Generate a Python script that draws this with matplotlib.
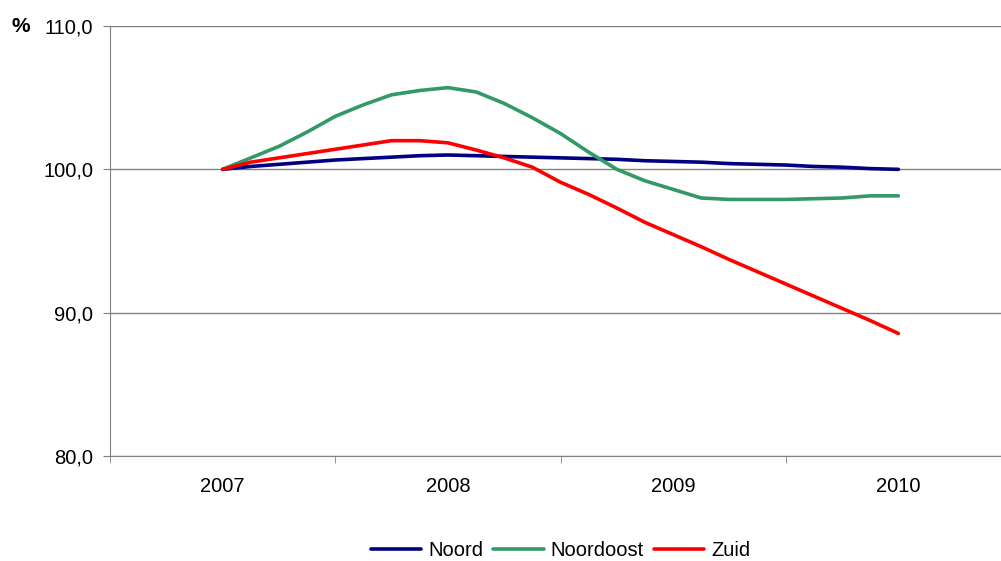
import numpy as np
from matplotlib import pyplot as plt
from matplotlib.ticker import FuncFormatter

plt.rcParams['font.family'] = ['Liberation Sans', 'DejaVu Sans']

# Data (8 points per year, 2007 -> 2010).
years = [2007, 2008, 2009, 2010]
steps = np.arange(25) / 8.0 + 2007

noord = [100.0, 100.2, 100.35, 100.5, 100.65, 100.75, 100.85, 100.95, 101.0,
         100.95, 100.9, 100.85, 100.8, 100.75, 100.7, 100.6, 100.55, 100.5,
         100.4, 100.35, 100.3, 100.2, 100.15, 100.05, 100.0]
noordoost = [100.0, 100.8, 101.6, 102.6, 103.7, 104.5, 105.2, 105.5, 105.7,
             105.4, 104.6, 103.6, 102.5, 101.2, 100.0, 99.2, 98.6, 98.0,
             97.9, 97.9, 97.9, 97.95, 98.0, 98.15, 98.15]
zuid = [100.0, 100.5, 100.8, 101.1, 101.4, 101.7, 102.0, 102.0, 101.85,
        101.35, 100.8, 100.15, 99.1, 98.25, 97.3, 96.3, 95.45, 94.6,
        93.7, 92.85, 92.0, 91.15, 90.3, 89.45, 88.55]

names = ['Noord', 'Noordoost', 'Zuid']
colors = ['#000080', '#339966', '#FF0000']

fs = 14.5

fig = plt.figure(figsize=(10.01, 5.61), dpi=100)
ax = fig.add_axes([110/1001, 1 - 456/561, 901/1001, 430/561])

for vals, name, col in zip([noord, noordoost, zuid], names, colors):
    ax.plot(steps, vals, color=col, linewidth=2.6, label=name,
            solid_capstyle='round', solid_joinstyle='round')

ax.set_xlim(2006.5, 2010.5)
ax.set_ylim(80, 110)

# Horizontal gridlines.
ax.set_yticks([80, 90, 100, 110])
ax.yaxis.set_major_formatter(FuncFormatter(lambda v, p: ('%.1f' % v).replace('.', ',')))
ax.grid(axis='y', color='#808080', linewidth=1.0)
ax.set_axisbelow(True)

# Year labels in the middle, tick marks between categories.
ax.set_xticks(years)
ax.set_xticklabels([str(y) for y in years])
ax.set_xticks([2006.5, 2007.5, 2008.5, 2009.5, 2010.5], minor=True)
ax.tick_params(axis='x', which='major', length=0, labelsize=fs, pad=15)
ax.tick_params(axis='x', which='minor', length=5, color='#808080', direction='out')
ax.tick_params(axis='y', length=5, color='#808080', labelsize=fs, pad=7)

for s in ['top', 'right']:
    ax.spines[s].set_visible(False)
ax.spines['left'].set_color('#808080')
ax.spines['bottom'].set_color('#808080')

fig.text(11/1001, 1 - 26/561, '%', fontsize=15, fontweight='bold', va='center', ha='left')

fig.legend(loc='center', bbox_to_anchor=(0.56, 0.019), ncol=3, frameon=False,
           fontsize=fs, handlelength=2.5, handletextpad=0.35, columnspacing=0.5)

fig.savefig('out.png', dpi=100)
